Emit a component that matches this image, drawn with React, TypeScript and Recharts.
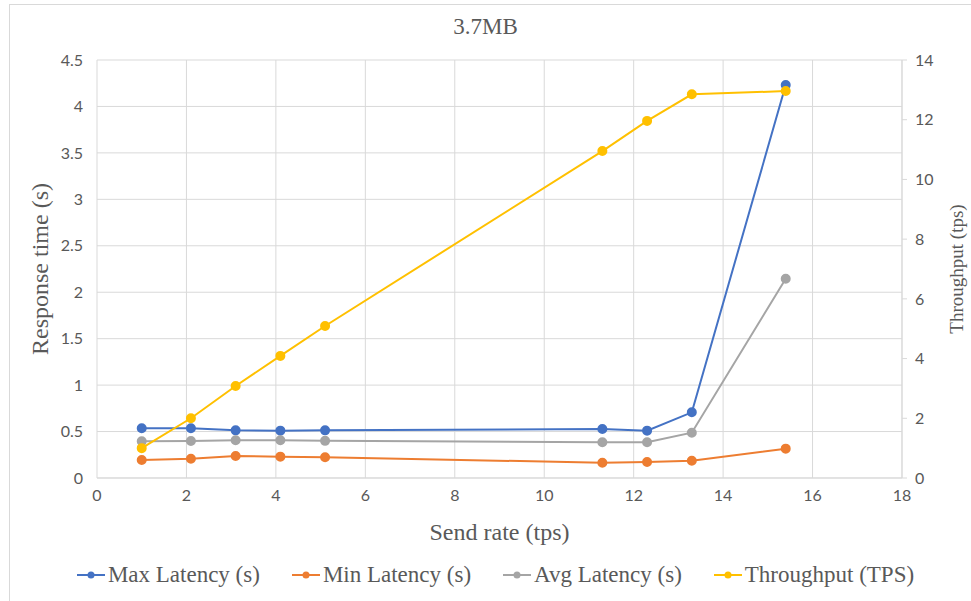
import React from 'react';
import { ComposedChart, Line, XAxis, YAxis, CartesianGrid, Legend } from 'recharts';

const sendRate = [1, 2.1, 3.1, 4.1, 5.1, 11.3, 12.3, 13.3, 15.4];
const maxLatency = [0.535, 0.535, 0.513, 0.51, 0.513, 0.527, 0.51, 0.707, 4.23];
const minLatency = [0.194, 0.208, 0.237, 0.23, 0.223, 0.165, 0.172, 0.186, 0.316];
const avgLatency = [0.395, 0.398, 0.406, 0.406, 0.4, 0.384, 0.384, 0.488, 2.145];
const throughput = [1.0, 2.0, 3.08, 4.09, 5.09, 10.95, 11.96, 12.85, 12.96];

const xTicks = [0, 2, 4, 6, 8, 10, 12, 14, 16, 18];
const leftTicks = [0, 0.5, 1, 1.5, 2, 2.5, 3, 3.5, 4, 4.5];
const rightTicks = [0, 2, 4, 6, 8, 10, 12, 14];

const title = '3.7MB';

const series = [
  { key: 'max', name: 'Max Latency (s)', color: '#4472C4', axis: 'left' },
  { key: 'min', name: 'Min Latency (s)', color: '#ED7D31', axis: 'left' },
  { key: 'avg', name: 'Avg Latency (s)', color: '#A5A5A5', axis: 'left' },
  { key: 'tps', name: 'Throughput (TPS)', color: '#FFC000', axis: 'right' },
];

const data = sendRate.map((x, i) => ({
  x,
  max: maxLatency[i],
  min: minLatency[i],
  avg: avgLatency[i],
  tps: throughput[i],
}));

const serif = '"Liberation Serif", "Times New Roman", serif';
const sans = 'Lato, "Open Sans", sans-serif';
const textColor = '#595959';
const gridColor = '#d9d9d9';

const tickStyle = { fontFamily: sans, fontSize: 16, fill: textColor };

function LegendContent() {
  return (
    <div style={{ display: 'flex', justifyContent: 'center', alignItems: 'center', fontFamily: serif, fontSize: 23, color: textColor, whiteSpace: 'nowrap', paddingLeft: 20 }}>
      {series.map((s) => (
        <div key={s.key} style={{ display: 'flex', alignItems: 'center', margin: '0 16px' }}>
          <svg width={28} height={12} style={{ marginRight: 3 }}>
            <line x1={0} y1={6} x2={28} y2={6} stroke={s.color} strokeWidth={2} />
            <circle cx={14} cy={6} r={3.5} fill={s.color} />
          </svg>
          <span>{s.name}</span>
        </div>
      ))}
    </div>
  );
}

export default function App() {
  return (
    <div style={{ position: 'absolute', left: 0, top: 0, width: 971, height: 601, background: '#fff', overflow: 'hidden' }}>
      <div style={{ position: 'absolute', left: 9, top: 4, width: 970, height: 610, borderTop: `1px solid ${gridColor}`, borderLeft: `1px solid ${gridColor}` }} />
      <div style={{ position: 'absolute', left: 0, top: 14, width: 971, textAlign: 'center', fontFamily: serif, fontSize: 23, color: textColor }}>
        {title}
      </div>
      <ComposedChart
        width={971}
        height={601}
        data={data}
        margin={{ top: 60, right: 19, left: 27, bottom: 93 }}
        style={{ position: 'absolute', left: 0, top: 0 }}
      >
        <CartesianGrid yAxisId="left" stroke={gridColor} strokeWidth={1} vertical={true} horizontal={true} />
        <XAxis
          dataKey="x"
          type="number"
          domain={[0, 18]}
          ticks={xTicks}
          tick={tickStyle}
          tickLine={false}
          axisLine={{ stroke: gridColor }}
          height={30}
          tickMargin={6}
          label={{ value: 'Send rate (tps)', position: 'insideBottom', offset: -32, style: { fontFamily: serif, fontSize: 24, fill: textColor } }}
        />
        <YAxis
          yAxisId="left"
          domain={[0, 4.5]}
          ticks={leftTicks}
          tick={tickStyle}
          tickLine={false}
          axisLine={false}
          width={70}
          tickMargin={8}
          label={{ value: 'Response time (s)', angle: -90, position: 'insideLeft', offset: 12, style: { fontFamily: serif, fontSize: 24, fill: textColor, textAnchor: 'middle' } }}
        />
        <YAxis
          yAxisId="right"
          orientation="right"
          domain={[0, 14]}
          ticks={rightTicks}
          tick={tickStyle}
          tickLine={{ stroke: gridColor }}
          tickSize={5}
          axisLine={{ stroke: gridColor }}
          width={50}
          tickMargin={8}
          label={{ value: 'Throughput (tps)', angle: -90, position: 'insideRight', offset: -4, style: { fontFamily: serif, fontSize: 19, fill: textColor, textAnchor: 'middle' } }}
        />
        <Legend
          verticalAlign="middle"
          align="center"
          layout="horizontal"
          wrapperStyle={{ top: 562, left: 0, width: 971 }}
          content={LegendContent}
        />
        {series.map((s) => (
          <Line
            key={s.key}
            yAxisId={s.axis}
            dataKey={s.key}
            name={s.name}
            stroke={s.color}
            strokeWidth={2}
            dot={{ r: 4, fill: s.color, stroke: s.color }}
            isAnimationActive={false}
          />
        ))}
      </ComposedChart>
    </div>
  );
}
